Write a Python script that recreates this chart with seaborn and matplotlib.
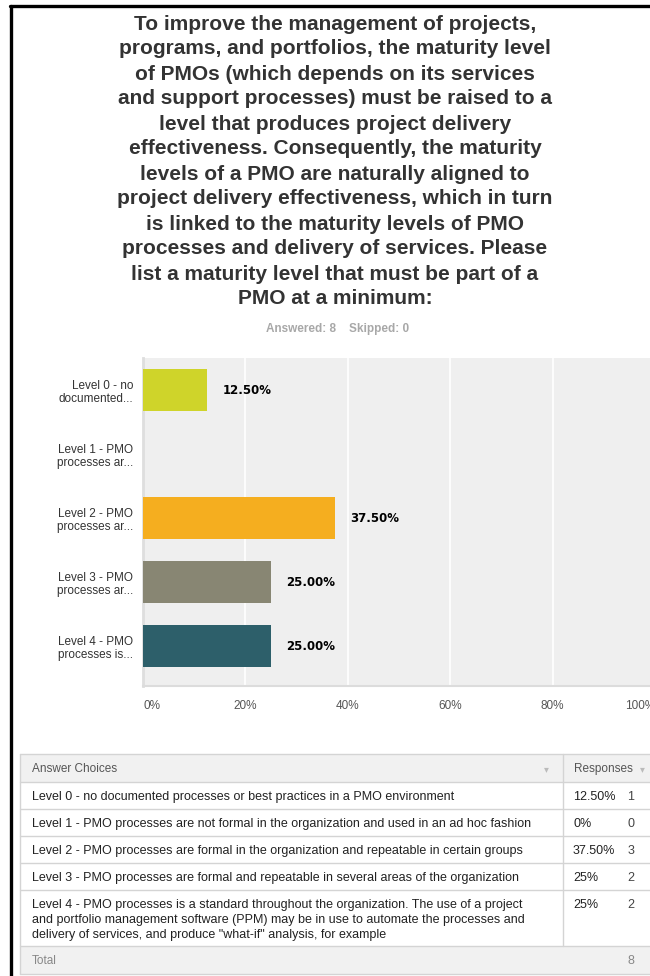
import matplotlib
matplotlib.use("Agg")
import matplotlib.pyplot as plt
import seaborn as sns
import pandas as pd
from matplotlib.lines import Line2D
from matplotlib.patches import Rectangle

# ---- survey data -------------------------------------------------------
question_lines = [
    "To improve the management of projects,",
    "programs, and portfolios, the maturity level",
    "of PMOs (which depends on its services",
    "and support processes) must be raised to a",
    "level that produces project delivery",
    "effectiveness. Consequently, the maturity",
    "levels of a PMO are naturally aligned to",
    "project delivery effectiveness, which in turn",
    "is linked to the maturity levels of PMO",
    "processes and delivery of services. Please",
    "list a maturity level that must be part of a",
    "PMO at a minimum:",
]
answered = 8
skipped = 0

short_labels = [
    "Level 0 - no\ndocumented...",
    "Level 1 - PMO\nprocesses ar...",
    "Level 2 - PMO\nprocesses ar...",
    "Level 3 - PMO\nprocesses ar...",
    "Level 4 - PMO\nprocesses is...",
]
full_choices = [
    "Level 0 - no documented processes or best practices in a PMO environment",
    "Level 1 - PMO processes are not formal in the organization and used in an ad hoc fashion",
    "Level 2 - PMO processes are formal in the organization and repeatable in certain groups",
    "Level 3 - PMO processes are formal and repeatable in several areas of the organization",
    "Level 4 - PMO processes is a standard throughout the organization. The use of a project\n"
    "and portfolio management software (PPM) may be in use to automate the processes and\n"
    "delivery of services, and produce \"what-if\" analysis, for example",
]
shares = [12.5, 0.0, 37.5, 25.0, 25.0]
counts = [1, 0, 3, 2, 2]
x_ticks = [0, 20, 40, 60, 80, 100]
x_tick_labels = ["0%", "20%", "40%", "60%", "80%", "100%"]

bar_colors = ["#cfd42a", "#9db3bd", "#f5ae1f", "#888673", "#2d5f6a"]

# ---- figure ------------------------------------------------------------
W, H = 650, 976
sns.set_theme(style="white")
plt.rcParams["font.family"] = ["Liberation Sans", "DejaVu Sans"]
fig = plt.figure(figsize=(W / 100, H / 100), dpi=100)
fig.patch.set_facecolor("white")

narrow = ["Liberation Sans Narrow", "Liberation Sans", "DejaVu Sans"]

# bar chart axes (0% .. 100% spans 143 px .. 655 px)
ax_l, ax_r, ax_t, ax_b = 143, 655, 358, 686
ax = fig.add_axes([ax_l / W, 1 - ax_b / H, (ax_r - ax_l) / W, (ax_b - ax_t) / H])
ax.set_facecolor("#efefef")

df = pd.DataFrame({"choice": short_labels, "share": shares})
sns.barplot(data=df, x="share", y="choice", hue="choice", palette=bar_colors,
            orient="h", width=0.67, legend=False, ax=ax, zorder=3,
            saturation=1, linewidth=0, edgecolor="none")

ax.set_xlim(0, 100)
ax.set_ylim(4.625, -0.5)
ax.set_xticks(x_ticks)
ax.set_xticklabels(x_tick_labels)
ax.grid(axis="x", color="white", linewidth=1.2, zorder=0)
ax.grid(axis="y", visible=False)
ax.set_axisbelow(True)
ax.set_xlabel("")
ax.set_ylabel("")
for side in ["top", "right"]:
    ax.spines[side].set_visible(False)
ax.spines["left"].set_color("#dedede")
ax.spines["left"].set_linewidth(2)
ax.spines["bottom"].set_color("#dcdcdc")
ax.spines["bottom"].set_linewidth(1.5)
ax.tick_params(axis="x", length=0, pad=10, labelsize=8.5, labelcolor="#555555")
ax.tick_params(axis="y", length=0, pad=7, labelsize=8.5, labelcolor="#333333")
for t in ax.get_xticklabels():
    t.set_family(narrow)
for t in ax.get_yticklabels():
    t.set_family(narrow)
    t.set_linespacing(1.15)
xt = ax.get_xticklabels()
xt[0].set_horizontalalignment("left")
xt[-1].set_horizontalalignment("right")

for cont in ax.containers:
    for bar in cont:
        v = bar.get_width()
        if v > 0:
            ax.annotate(f"{v:.2f}%", (v, bar.get_y() + bar.get_height() / 2),
                        xytext=(11, 0), textcoords="offset points",
                        ha="left", va="center", fontsize=8.5, fontweight="bold",
                        color="black", family=["DejaVu Sans"])

# ---- overlay in pixel coordinates: frame, title, table -----------------
ov = fig.add_axes([0, 0, 1, 1], zorder=-1)
ov.set_xlim(0, W)
ov.set_ylim(H, 0)
ov.axis("off")
ov.patch.set_alpha(0)

ov.add_line(Line2D([10, W], [6, 6], color="black", linewidth=2.4))
ov.add_line(Line2D([11, 11], [6, H], color="black", linewidth=2.4))

for i, line in enumerate(question_lines):
    ov.text(335, 24 + 25 * i, line, ha="center", va="center",
            fontsize=15, fontweight="bold", color="#333333")
ov.text(338, 329, f"Answered: {answered}    Skipped: {skipped}", ha="center",
        va="center", fontsize=8.5, fontweight="bold", color="#a8a8a8",
        family=narrow)

# table
tx0, tx1, col_x = 20, 652, 563
row_edges = [754, 782, 809, 836, 863, 890, 946, 974]
ov.add_patch(Rectangle((tx0, row_edges[0]), tx1 - tx0, row_edges[1] - row_edges[0],
                       facecolor="#f1f1f1", edgecolor="none"))
ov.add_patch(Rectangle((tx0, row_edges[-2]), tx1 - tx0, row_edges[-1] - row_edges[-2],
                       facecolor="#f1f1f1", edgecolor="none"))
for yy in row_edges:
    ov.add_line(Line2D([tx0, tx1], [yy, yy], color="#d4d4d4", linewidth=1))
ov.add_line(Line2D([tx0, tx0], [row_edges[0], row_edges[-1]], color="#d4d4d4", linewidth=1))
ov.add_line(Line2D([col_x, col_x], [row_edges[0], row_edges[-2]], color="#d4d4d4", linewidth=1))

tfs = 9
ov.text(32, 772, "Answer Choices", ha="left", va="baseline", fontsize=8.5, color="#555555")
ov.text(546, 769, "\u25be", ha="center", va="center", fontsize=7, color="#bbbbbb",
        family=["DejaVu Sans"])
ov.text(574, 772, "Responses", ha="left", va="baseline", fontsize=8.5, color="#555555")
ov.text(642, 769, "\u25be", ha="center", va="center", fontsize=7, color="#bbbbbb",
        family=["DejaVu Sans"])

for i, (choice, s, c) in enumerate(zip(full_choices, shares, counts)):
    base = row_edges[i + 1] + 18
    for k, part in enumerate(choice.split("\n")):
        ov.text(32, base + 15 * k, part, ha="left", va="baseline", fontsize=tfs,
                color="#222222")
    pct = f"{s:.0f}%" if float(s).is_integer() else f"{s:.2f}%"
    ov.text(573, base, pct, ha="left", va="baseline", fontsize=tfs, color="#222222")
    ov.text(634, base, str(c), ha="right", va="baseline", fontsize=tfs, color="#444444")

ov.text(32, 964, "Total", ha="left", va="baseline", fontsize=8.5, color="#888888")
ov.text(634, 964, str(sum(counts)), ha="right", va="baseline", fontsize=tfs, color="#888888")

fig.savefig("out.png", dpi=100)
